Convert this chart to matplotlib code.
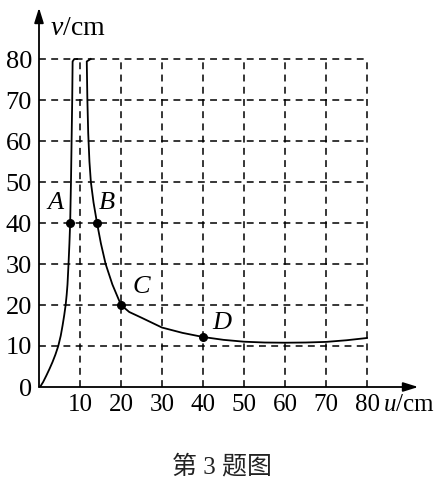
import matplotlib
matplotlib.use("Agg")
import matplotlib.pyplot as plt

plt.rcParams['mathtext.fontset'] = 'custom'
plt.rcParams['mathtext.rm'] = 'Liberation Serif'
plt.rcParams['mathtext.it'] = 'Liberation Serif:italic'

# values
ticks = [10, 20, 30, 40, 50, 60, 70, 80]
yticks = [0, 10, 20, 30, 40, 50, 60, 70, 80]

# left branch (u < f)
u_left = [0.25, 1.0, 1.8, 2.6, 3.3, 4.0, 4.7, 5.3, 5.75, 6.15, 6.5, 6.75, 6.95, 7.2,
          7.42, 7.6, 7.8, 7.95, 8.1, 8.2, 8.6, 9.3]
v_left = [0, 1.2, 2.8, 4.5, 6.1, 7.9, 10, 12.5, 15, 17.5, 20, 22.5, 25, 30,
          35, 40, 50, 60, 70, 79.4, 80, 80]

# right branch (u > f)
u_right = [12.6, 11.65, 11.8, 12.0, 12.3, 12.65, 13.3, 14.15, 15.1, 16.25, 17.9, 20,
           22, 25, 30, 35, 40, 45, 50, 55, 60, 65, 70, 75, 80]
v_right = [80, 79.4, 70, 62, 55, 50, 45, 40, 35, 30, 25, 20,
           18.3, 16.9, 14.5, 13.2, 12.2, 11.5, 11.05, 10.85, 10.8, 10.85, 11.0, 11.4, 11.95]

pts_u = [7.6, 14.15, 20, 40]
pts_v = [40, 40, 20, 12.2]
pts_lab = ['A', 'B', 'C', 'D']

W, H = 444, 488
fig = plt.figure(figsize=(W / 100, H / 100), dpi=100)
px = 4.1
x0, y0 = 39, 387
xmax, ymax = 92.5, 92.5
ax = fig.add_axes([x0 / W, (H - y0) / H, xmax * px / W, ymax * px / H])
ax.set_xlim(0, xmax)
ax.set_ylim(0, ymax)
for s in ax.spines.values():
    s.set_visible(False)

# dashed grid
dash = dict(color='black', lw=1.1, ls=(0, (4.5, 3.5)))
for t in ticks:
    ax.plot([t, t], [0, 80], **dash)
for t in yticks[1:]:
    ax.plot([0, 80], [t, t], **dash)

# axes with arrows
arr = dict(arrowstyle='-|>,head_length=0.9,head_width=0.28', color='black', lw=1.3,
           shrinkA=0, shrinkB=0)
ax.annotate('', xy=(xmax, 0), xytext=(0, 0), arrowprops=arr)
ax.annotate('', xy=(0, ymax), xytext=(0, 0), arrowprops=arr)

ax.plot(u_left, v_left, color='black', lw=1.3)
ax.plot(u_right, v_right, color='black', lw=1.3)
ax.scatter(pts_u, pts_v, s=30, color='black', zorder=5)

offs = {'A': (-3.6, 4.8), 'B': (2.3, 4.8), 'C': (5, 4.5), 'D': (4.5, 3.5)}
for u, v, lab in zip(pts_u, pts_v, pts_lab):
    dx, dy = offs[lab]
    ax.text(u + dx, v + dy, lab, fontsize=19, family='Liberation Serif',
            style='italic', ha='center', va='center')

ax.set_xticks(ticks)
ax.set_xticklabels([str(t) for t in ticks])
ax.set_yticks(yticks)
ax.set_yticklabels([str(t) for t in yticks])
ax.tick_params(axis='y', length=0, labelsize=19, pad=5)
ax.tick_params(axis='x', length=0, labelsize=18, pad=5)
for lbl in ax.get_xticklabels() + ax.get_yticklabels():
    lbl.set_family('Liberation Serif')

ax.text(83.9, -4.3, r'$u$/cm', fontsize=18, family='Liberation Serif',
        ha='left', va='center')
ax.text(2.6, 87.4, r'$v$/cm', fontsize=20, family='Liberation Serif',
        ha='left', va='center')

fig.text(222 / W, 1 - 467 / H, '第 3 题图', fontsize=18, color='#222222',
         family=['Liberation Serif', 'Noto Sans CJK SC'], ha='center', va='center')

fig.savefig('out.png', dpi=100)
